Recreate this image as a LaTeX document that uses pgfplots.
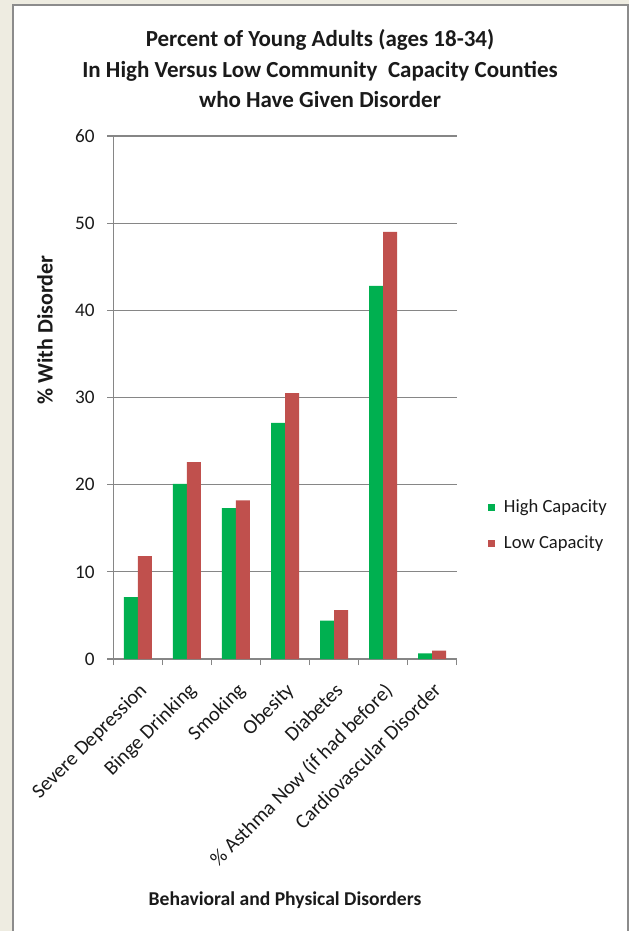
\documentclass[border=0pt]{standalone}
\usepackage{fontspec}
\setmainfont{Carlito}
\usepackage{pgfplots}
\pgfplotsset{compat=1.18}
\definecolor{xlgreen}{HTML}{00B050}
\definecolor{xlred}{HTML}{C0504D}
\definecolor{bgbeige}{HTML}{EEECE1}
\definecolor{gridgray}{HTML}{868686}
\definecolor{framegray}{HTML}{8C8C8C}
\definecolor{txt}{HTML}{1A1A1A}
\begin{document}
\begin{tikzpicture}
\path[use as bounding box] (0pt,0pt) rectangle (314.5pt,-465.5pt);
\fill[bgbeige] (0pt,0pt) rectangle (314.5pt,-465.5pt);
\fill[white] (6.5pt,-2.5pt) rectangle (314pt,-466pt);
\draw[framegray, line width=1pt] (6.5pt,-466pt) -- (6.5pt,-2.5pt) -- (314pt,-2.5pt) -- (314pt,-466pt);
\begin{axis}[
  at={(56.65pt,-329.5pt)}, anchor=south west,
  scale only axis, width=171.7pt, height=261.5pt,
  xmin=-0.5, xmax=6.5, ymin=0, ymax=60,
  ybar=0pt, bar width=7pt,
  axis x line=bottom, axis y line=left,
  axis line style={gridgray, line width=0.6pt, -},
  ytick={0,10,...,60},
  ymajorgrids, major grid style={gridgray, line width=0.6pt},
  tick align=outside, major tick length=3pt,
  tick style={gridgray, line width=0.6pt},
  xtick={-0.5,0.5,...,6.5}, xticklabels={},
  extra x ticks={0,1,2,3,4,5,6},
  extra x tick labels={Severe Depression, Binge Drinking, Smoking, Obesity, Diabetes, {\% Asthma Now (if had before)}, Cardiovascular Disorder},
  extra x tick style={major tick length=0pt, tick label style={xshift=0pt, yshift=-11pt, rotate=45, anchor=north east, inner sep=0pt, font=\fontsize{10.2}{12}\selectfont}},
  /pgf/number format/assume math mode=true,
  tick label style={font=\fontsize{9.6}{11}\selectfont, text=txt},
  yticklabel style={xshift=-2.8pt},
  title={Percent of Young Adults (ages 18-34)\\In High Versus Low Community\ \ Capacity Counties\\who Have Given Disorder},
  title style={at={(axis description cs:0.602,1.106)}, anchor=center, align=center, font=\fontsize{11.5}{15.2}\selectfont\bfseries, text=txt},
  ylabel={\% With Disorder},
  ylabel style={at={(axis description cs:-0.199,0.629)}, anchor=center, rotate=0, font=\fontsize{11}{13}\selectfont\bfseries, text=txt},
  xlabel={Behavioral and Physical Disorders},
  xlabel style={at={(axis description cs:0.5,-0.461)}, anchor=center, font=\fontsize{9.8}{12}\selectfont\bfseries, text=txt},
  legend image code/.code={\fill[#1] (0pt,-1.75pt) rectangle (3.5pt,1.75pt);},
  legend style={at={(axis description cs:1.0911,0.2562)}, anchor=west, draw=none, fill=none, inner sep=0pt,
    nodes={inner sep=0pt, text height=7pt, text depth=2pt, font=\fontsize{9.3}{11}\selectfont, text=txt},
    row sep=9pt, column sep=4.3pt},
  legend cell align=left,
  clip=false,
]
\addplot[fill=xlgreen, draw=none] coordinates {(0,7.1) (1,20.1) (2,17.3) (3,27.1) (4,4.4) (5,42.8) (6,0.65)};
\addplot[fill=xlred, draw=none] coordinates {(0,11.8) (1,22.6) (2,18.2) (3,30.5) (4,5.6) (5,49.0) (6,0.95)};
\legend{High Capacity, Low Capacity}
\end{axis}
\end{tikzpicture}
\end{document}
